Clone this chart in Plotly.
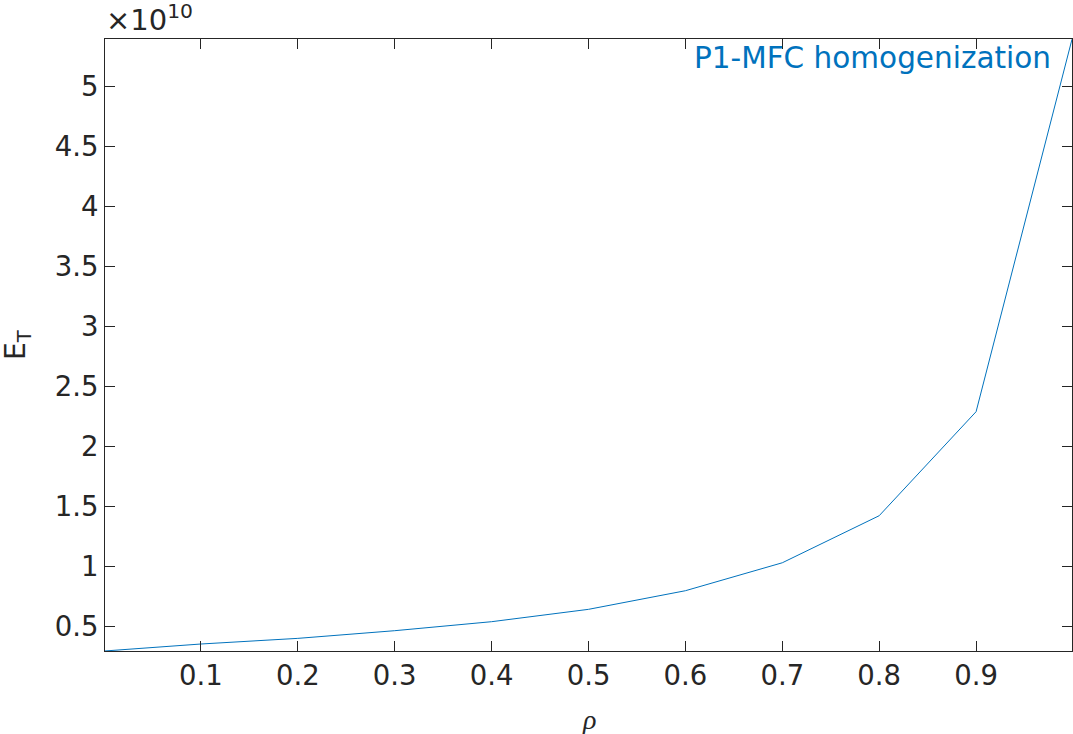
import plotly.graph_objects as go

rho = [0.001, 0.1, 0.2, 0.3, 0.4, 0.5, 0.6, 0.7, 0.8, 0.9, 0.999]
E_T = [0.292e10, 0.350e10, 0.397e10, 0.461e10, 0.536e10, 0.639e10, 0.794e10,
       1.027e10, 1.419e10, 2.286e10, 5.39e10]
x_ticks = [0.1, 0.2, 0.3, 0.4, 0.5, 0.6, 0.7, 0.8, 0.9]
y_tick_labels = ["0.5", "1", "1.5", "2", "2.5", "3", "3.5", "4", "4.5", "5"]
y_tick_vals = [float(s) * 1e10 for s in y_tick_labels]

axis_color = "#262626"
font_fam = "DejaVu Sans"

fig = go.Figure()
fig.add_trace(go.Scatter(x=rho, y=E_T, mode="lines",
                         line=dict(color="#0072BD", width=1), showlegend=False))

common = dict(showline=True, linecolor=axis_color, linewidth=1, mirror="ticks",
              ticks="inside", ticklen=10, tickcolor=axis_color, tickwidth=1,
              showgrid=False, zeroline=False,
              tickfont=dict(family=font_fam, size=27.5, color=axis_color))

fig.update_xaxes(range=[0.001, 0.999], tickvals=x_ticks,
                 ticktext=[str(v) for v in x_ticks], **common)
fig.update_yaxes(range=[0.2917e10, 5.392e10], tickvals=y_tick_vals,
                 ticktext=y_tick_labels, **common)

fig.update_layout(
    width=1073, height=734,
    margin=dict(l=105, r=1, t=39, b=83),
    plot_bgcolor="white", paper_bgcolor="white",
    annotations=[
        dict(text="P1-MFC homogenization", xref="paper", yref="paper",
             x=1.0, y=1.0, xanchor="right", yanchor="top", showarrow=False,
             xshift=-19, yshift=0,
             font=dict(family=font_fam, size=29.5, color="#0072BD")),
        dict(text="×10<sup>10</sup>", xref="paper", yref="paper",
             x=0.0, y=1.0, xanchor="left", yanchor="bottom", showarrow=False,
             xshift=-1, yshift=0,
             font=dict(family=font_fam, size=29, color=axis_color)),
        dict(text="E<sub>T</sub>", xref="paper", yref="paper",
             x=0.0, y=0.5, xanchor="center", yanchor="middle", showarrow=False,
             xshift=-88, textangle=-90,
             font=dict(family=font_fam, size=28, color=axis_color)),
        dict(text="<i>ρ</i>", xref="paper", yref="paper",
             x=0.5, y=0.0, xanchor="center", yanchor="middle", showarrow=False,
             yshift=-68,
             font=dict(family="Liberation Serif", size=28, color=axis_color)),
    ],
)

fig.write_html("out.html", config={"displayModeBar": False},
               post_script="document.body.style.margin='0';document.body.style.overflow='hidden';")
